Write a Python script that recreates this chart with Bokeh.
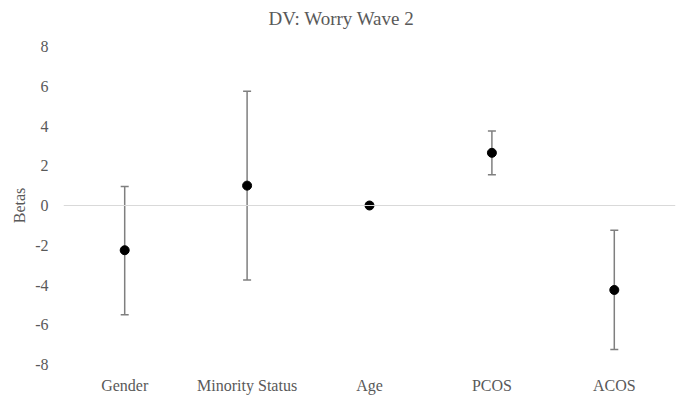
from bokeh.plotting import figure
from bokeh.models import ColumnDataSource, Whisker, Span, FactorRange, TeeHead, FixedTicker, Title
from bokeh.embed import file_html
from bokeh.resources import INLINE

categories = ["Gender", "Minority Status", "Age", "PCOS", "ACOS"]
betas = [-2.25, 1.0, 0.0, 2.65, -4.25]
upper = [0.95, 5.75, 0.0, 3.75, -1.25]
lower = [-5.5, -3.75, 0.0, 1.55, -7.25]
y_ticks = [-8, -6, -4, -2, 0, 2, 4, 6, 8]
title_text = "DV: Worry Wave 2"

FONT = "Liberation Serif"
GREY = "#595959"

src = ColumnDataSource(dict(cat=categories, beta=betas, upper=upper, lower=lower))

p = figure(width=682, height=397, x_range=FactorRange(*categories), y_range=(-8, 8),
           output_backend="svg", toolbar_location=None, title=None,
           min_border_left=63, min_border_right=7, min_border_top=46, min_border_bottom=33)
p.outline_line_color = None
p.background_fill_color = "white"
p.border_fill_color = "white"
p.xgrid.grid_line_color = None
p.ygrid.grid_line_color = None
p.x_range.range_padding = 0

spacer = Title(text=" ", text_font_size="1px", text_color="white")
p.add_layout(spacer, "above")
main_title = Title(text=title_text, align="left", offset=205, text_font=FONT,
                   text_font_size="19px", text_font_style="normal", text_color=GREY)
p.add_layout(main_title, "above")

zero = Span(location=0, dimension="width", line_color="#d9d9d9", line_width=1)
p.add_layout(zero)

w = Whisker(source=src, base="cat", upper="upper", lower="lower",
            line_color="#7f7f7f", line_width=1.5,
            upper_head=TeeHead(size=8, line_color="#7f7f7f", line_width=1.5),
            lower_head=TeeHead(size=8, line_color="#7f7f7f", line_width=1.5))
p.add_layout(w)

p.scatter(x="cat", y="beta", source=src, size=9, color="black")

for ax in (p.xaxis[0], p.yaxis[0]):
    ax.axis_line_color = None
    ax.major_tick_line_color = None
    ax.minor_tick_line_color = None
    ax.major_label_text_font = FONT
    ax.major_label_text_font_size = "16px"
    ax.major_label_text_color = GREY

p.yaxis[0].ticker = FixedTicker(ticks=y_ticks)
p.yaxis[0].major_label_overrides = {t: str(t) for t in y_ticks}
p.yaxis[0].major_label_standoff = 9
p.yaxis[0].axis_label = "Betas"
p.yaxis[0].axis_label_text_font = FONT
p.yaxis[0].axis_label_text_font_size = "16px"
p.yaxis[0].axis_label_text_font_style = "normal"
p.yaxis[0].axis_label_text_color = GREY
p.yaxis[0].axis_label_standoff = 4
p.xaxis[0].major_label_standoff = 6

open("out.html", "w").write(file_html(p, INLINE))
